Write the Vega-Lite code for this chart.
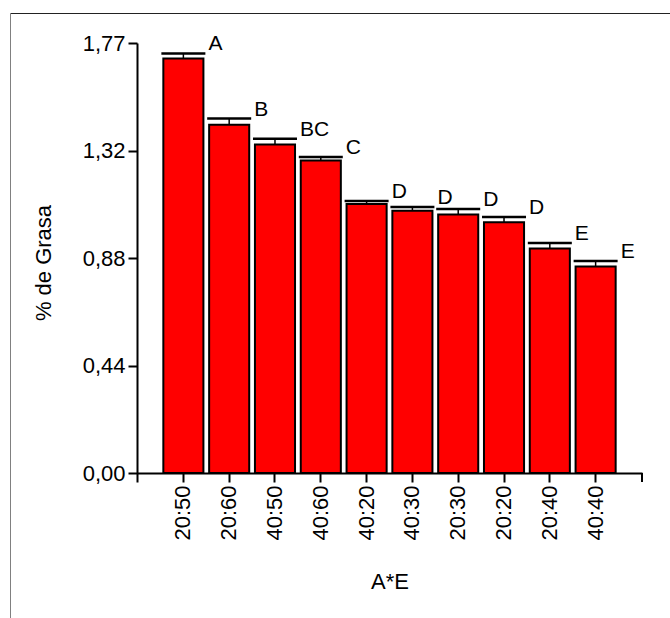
{
  "$schema": "https://vega.github.io/schema/vega-lite/v6.json",
  "autosize": {"type": "none"},
  "padding": {"left": 137, "top": 43, "right": 28, "bottom": 136},
  "width": 505,
  "height": 439,
  "background": "white",
  "config": {
    "view": {"stroke": null},
    "font": "Liberation Sans",
    "axis": {
      "grid": false,
      "labelFont": "Liberation Sans",
      "titleFont": "Liberation Sans",
      "labelColor": "black",
      "titleColor": "black",
      "labelFontSize": 22,
      "titleFontSize": 22,
      "titleFontWeight": "normal",
      "domainColor": "black",
      "tickColor": "black",
      "domainWidth": 2,
      "tickWidth": 2,
      "tickSize": 9
    }
  },
  "data": {"values": [
    {"cat": "20:50", "val": 1.706, "upper": 1.727, "grp": "A"},
    {"cat": "20:60", "val": 1.434, "upper": 1.459, "grp": "B"},
    {"cat": "40:50", "val": 1.352, "upper": 1.376, "grp": "BC"},
    {"cat": "40:60", "val": 1.286, "upper": 1.301, "grp": "C"},
    {"cat": "40:20", "val": 1.107, "upper": 1.120, "grp": "D"},
    {"cat": "40:30", "val": 1.080, "upper": 1.095, "grp": "D"},
    {"cat": "20:30", "val": 1.064, "upper": 1.087, "grp": "D"},
    {"cat": "20:20", "val": 1.032, "upper": 1.054, "grp": "D"},
    {"cat": "20:40", "val": 0.924, "upper": 0.947, "grp": "E"},
    {"cat": "40:40", "val": 0.850, "upper": 0.873, "grp": "E"}
  ]},
  "resolve": {"scale": {"x": "independent", "y": "independent"}, "axis": {"x": "independent", "y": "independent"}},
  "layer": [
    {
      "encoding": {
        "x": {
          "field": "cat", "type": "nominal", "sort": null,
          "scale": {"paddingInner": 0.125, "paddingOuter": 0.575},
          "axis": {"title": "A*E", "labelAngle": -90, "labelPadding": 3, "titlePadding": 31, "offset": -9}
        },
        "y": {
          "field": "val", "type": "quantitative",
          "scale": {"domain": [-0.037, 1.77], "nice": false, "zero": false},
          "axis": {
            "title": "% de Grasa",
            "values": [0, 0.4425, 0.885, 1.3275, 1.77],
            "labelExpr": "datum.value < 0.2 ? '0,00' : datum.value < 0.6 ? '0,44' : datum.value < 1.0 ? '0,88' : datum.value < 1.5 ? '1,32' : '1,77'",
            "labelPadding": 3,
            "titlePadding": 27
          }
        }
      },
      "layer": [
        {"mark": {"type": "bar", "color": "#ff0000", "stroke": "black", "strokeWidth": 2, "opacity": 1}, "encoding": {"y2": {"datum": 0}}},
        {"mark": {"type": "rule", "color": "black", "strokeWidth": 1.5, "opacity": 1}, "encoding": {"y2": {"field": "upper"}}},
        {"mark": {"type": "tick", "color": "black", "size": 44, "thickness": 2.5, "opacity": 1}, "encoding": {"y": {"field": "upper", "type": "quantitative"}}},
        {"mark": {"type": "text", "align": "left", "baseline": "alphabetic", "dx": 5, "dy": -3, "fontSize": 21, "font": "Liberation Sans", "color": "black"},
         "encoding": {"x": {"field": "cat", "type": "nominal", "sort": null, "bandPosition": 1}, "y": {"field": "upper", "type": "quantitative"}, "text": {"field": "grp"}}},
        {"data": {"values": [{"a": 0, "b": -0.037}]}, "mark": {"type": "rule", "color": "black", "strokeWidth": 2, "opacity": 1},
         "encoding": {"x": {"value": "width"}, "y": {"field": "a", "type": "quantitative"}, "y2": {"field": "b"}}}
      ]
    },
    {
      "data": {"values": [{"f": 0}, {"f": 1}]},
      "mark": {"type": "point", "opacity": 0},
      "encoding": {
        "x": {"field": "f", "type": "quantitative", "scale": {"domain": [0, 1], "range": [-127, 545], "nice": false, "zero": false},
              "axis": {"orient": "top", "offset": 30, "labels": false, "ticks": false, "title": null, "domainColor": "#222222", "domainWidth": 1}},
        "y": {"field": "f", "type": "quantitative", "scale": {"domain": [0, 1], "range": [590, -30], "nice": false, "zero": false},
              "axis": {"orient": "left", "offset": 127, "labels": false, "ticks": false, "title": null, "domainColor": "#808080", "domainWidth": 1}}
      }
    }
  ]
}
